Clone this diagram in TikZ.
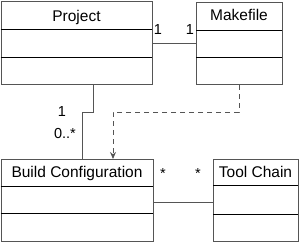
\documentclass[tikz,border=0pt]{standalone}
\usepackage{fontspec}
\setmainfont{Liberation Sans}
\usetikzlibrary{arrows.meta}
\definecolor{edge}{HTML}{555555}
\begin{document}
\begin{tikzpicture}[x=1pt,y=-1pt,
  classbox/.style={draw=edge,line width=1pt,inner sep=0pt,anchor=north west},
  sep/.style={draw=black,line width=1pt},
  title/.style={font=\fontsize{15.5}{18}\selectfont,anchor=base,inner sep=0pt},
  mult/.style={font=\fontsize{14.5}{17}\selectfont,anchor=base,inner sep=0pt},
  conn/.style={draw=edge,line width=1pt},
  dep/.style={draw=edge,line width=1pt,dash pattern=on 5pt off 4pt,-{Stealth[length=7pt,width=6pt]}}]
\useasboundingbox (0,0) rectangle (300,244);
% boxes
\node[classbox,minimum width=151.5pt,minimum height=83pt] (proj) at (0.5,0.5) {};
\node[classbox,minimum width=86pt,minimum height=82pt] (make) at (196,2) {};
\node[classbox,minimum width=152.5pt,minimum height=82pt] (bc) at (0.5,159) {};
\node[classbox,minimum width=85pt,minimum height=82pt] (tc) at (213,159) {};
% separators
\draw[sep] (0.5,29) -- (152,29) (0.5,57) -- (152,57);
\draw[sep] (196,30) -- (282,30) (196,57) -- (282,57);
\draw[sep] (0.5,186) -- (153,186) (0.5,213) -- (153,213);
\draw[sep] (213,185) -- (298,185) (213,214) -- (298,214);
% titles
\node[title] (projt) at (76.5,21) {Project};
\node[title] (maket) at (239,20) {Makefile};
\node[title] (bct) at (77,177) {Build Configuration};
\node[title] (tct) at (255.5,177) {Tool Chain};
% connectors
\coordinate (pm) at (0,43);
\draw[conn] (proj.east |- pm) -- (make.west |- pm);
\coordinate (k1) at (93,112);
\coordinate (k2) at (82,112);
\draw[conn] (proj.south -| k1) -- (k1) -- (k2) -- (bc.north -| k2);
\coordinate (d1) at (239,112);
\coordinate (d2) at (113,112);
\draw[dep] (make.south -| d1) -- (d1) -- (d2) -- (bc.north -| d2);
\coordinate (bt) at (0,202);
\draw[conn] (bc.east |- bt) -- (tc.west |- bt);
% multiplicities
\node[mult] (m1) at (158,34) {1};
\node[mult] (m2) at (190,34) {1};
\node[mult] (m3) at (62,116) {1};
\node[mult] (m4) at (65,138) {0..*};
\node[mult] (m5) at (163,178) {*};
\node[mult] (m6) at (198,178) {*};
\end{tikzpicture}
\end{document}
